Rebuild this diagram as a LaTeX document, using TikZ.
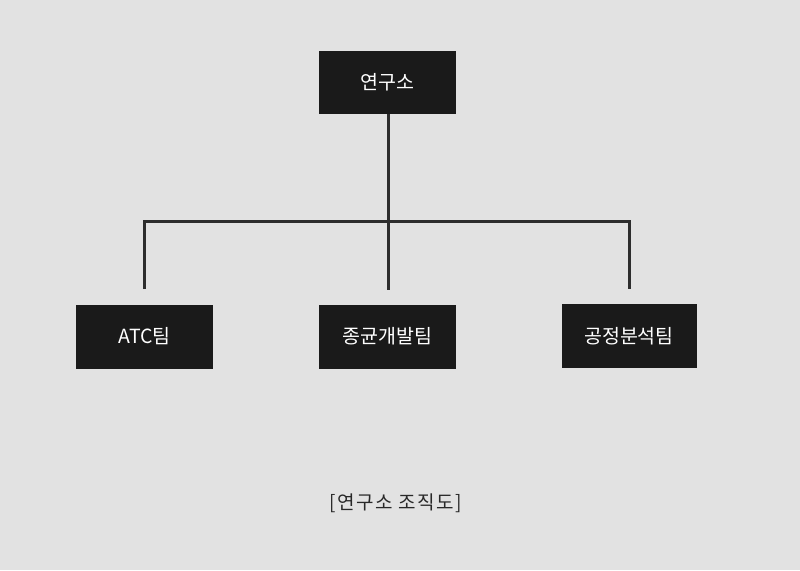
\documentclass[tikz,border=0pt]{standalone}
\usepackage{fontspec}
\newfontfamily\kr{Noto Sans CJK KR}
\newfontfamily\krsp[LetterSpace=8]{Noto Sans CJK KR}
\definecolor{bgc}{RGB}{226,226,226}
\definecolor{boxc}{RGB}{26,26,26}
\definecolor{linec}{RGB}{45,45,45}
\definecolor{capc}{RGB}{40,40,40}
\begin{document}
\begin{tikzpicture}[x=1pt,y=-1pt,
  orgbox/.style={fill=boxc,draw=none,text=white,minimum width=137pt,minimum height=64pt,inner sep=0pt,font=\kr\fontsize{19.5}{22}\selectfont},
  conn/.style={draw=linec,line width=3pt}]
\fill[bgc] (0,0) rectangle (800,570);
\useasboundingbox (0,0) rectangle (800,570);
\node[orgbox,minimum height=63pt] (top) at (387.5,82.5) {연구소};
\node[orgbox] (atc) at (144.5,336.5) {ATC팀};
\node[orgbox] (mid) at (387.5,336.5) {종균개발팀};
\node[orgbox,minimum width=135pt] (right) at (629,336) {공정분석팀};
\coordinate (ja) at (144,221);
\coordinate (jm) at (388,221);
\coordinate (jr) at (629,221);
\coordinate (ea) at (144,289);
\coordinate (em) at (388,290);
\coordinate (er) at (629,289);
\draw[conn] (top.south -| jm) -- (em);
\draw[conn] (ea) -- (ja) -- (jr) -- (er);
\node[text=capc,font=\krsp\fontsize{19}{22}\selectfont,inner sep=0pt] (cap) at (396,503) {[연구소 조직도]};
\end{tikzpicture}
\end{document}
